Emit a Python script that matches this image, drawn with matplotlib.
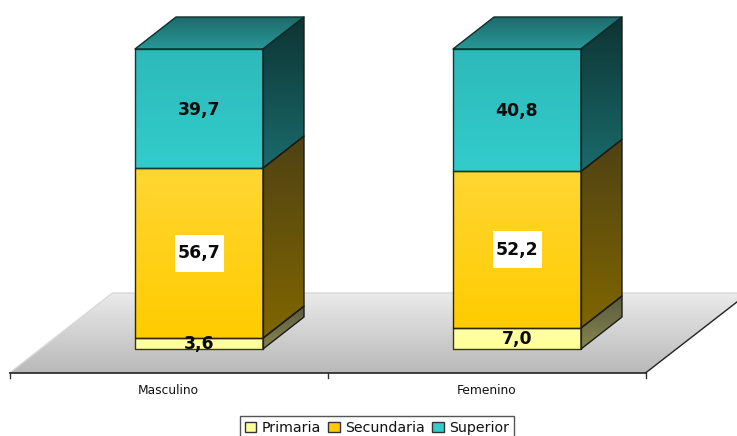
import numpy as np
import matplotlib
matplotlib.use("Agg")
import matplotlib.pyplot as plt
from matplotlib.colors import to_rgb, LinearSegmentedColormap
from matplotlib.patches import Polygon, Patch, Rectangle

categories = ["Masculino", "Femenino"]
series_names = ["Primaria", "Secundaria", "Superior"]
primaria = [3.6, 7.0]
secundaria = [56.7, 52.2]
superior = [39.7, 40.8]
value_labels = [["3,6", "7,0"], ["56,7", "52,2"], ["39,7", "40,8"]]

W, H = 737, 436
fig = plt.figure(figsize=(W / 100, H / 100), dpi=100, facecolor="white")
ax = fig.add_axes([0, 0, 1, 1])
XL = (-199 / 318, (W - 199) / 318)
YL = (-29, 349 / 3)
ax.axis("off")

PX = 1 / 318
PY = 1 / 3
bar_w = 128 * PX
dx, dy = 41 * PX, 32 * PY
fdx, fdy = 103 * PX, 80 * PY
floor_y = -8
cat_off = -30.5 * PX


def grad(verts, top, bottom, edge=None, lw=1.0, z=2):
    v = np.array(verts)
    cmap = LinearSegmentedColormap.from_list("g", [to_rgb(top), to_rgb(bottom)])
    im = ax.imshow(np.linspace(0, 1, 128)[:, None], cmap=cmap, aspect="auto",
                   extent=(v[:, 0].min(), v[:, 0].max(), v[:, 1].min(), v[:, 1].max()),
                   origin="upper", zorder=z, interpolation="bilinear")
    poly = Polygon(v, closed=True, transform=ax.transData, fc="none",
                   ec=edge if edge else "none", lw=lw, zorder=z + 0.1, joinstyle="round")
    ax.add_patch(poly)
    im.set_clip_path(poly)


# floor
x0 = -0.5 + cat_off
x1 = 1.5 + cat_off
floor = [(x0, floor_y), (x1, floor_y), (x1 + fdx, floor_y + fdy), (x0 + fdx, floor_y + fdy)]
grad(floor, "#eaeaea", "#b9b9b9", z=1)
ax.plot([x0, x0 + fdx, x1 + fdx], [floor_y, floor_y + fdy, floor_y + fdy], color="#d8d8d8", lw=1, zorder=1.5)
ax.plot([x1, x1 + fdx], [floor_y, floor_y + fdy], color="#222222", lw=1, zorder=1.6)
ax.plot([x0, x1], [floor_y, floor_y], color="#222222", lw=1.2, zorder=1.6)
for t in [x0, 0.5 + cat_off, x1]:
    ax.plot([t, t], [floor_y, floor_y - 5 * PY], color="#333333", lw=1, zorder=1.6)
for i, c in enumerate(categories):
    ax.text(i + cat_off, -13.7, c, ha="center", va="center", fontsize=8.8, color="#111111",
            family="DejaVu Sans")

styles = [
    dict(front=("#ffffa6", "#ffff99"), side=("#5c5c40", "#85854f"), edge="#3a3a10"),
    dict(front=("#ffd633", "#ffcc00"), side=("#4f4214", "#806600"), edge="#2e2500"),
    dict(front=("#2db9b9", "#33cccc"), side=("#0e3333", "#1a6b6b"), edge="#103a3a"),
]
stack = [primaria, secundaria, superior]
label_y = [[1.6, 3.4], [31.9, 33.0], [79.7, 79.4]]
boxed = [False, True, False]
box_w, box_h = 49 * PX, 37 * PY

for i in range(len(categories)):
    base = 0.0
    xl, xr = i - bar_w / 2, i + bar_w / 2
    for s, vals in enumerate(stack):
        v = vals[i]
        st = styles[s]
        grad([(xl, base), (xr, base), (xr, base + v), (xl, base + v)], st["front"][0], st["front"][1],
             edge=st["edge"], z=3 + s * 0.01)
        grad([(xr, base), (xr + dx, base + dy), (xr + dx, base + v + dy), (xr, base + v)],
             st["side"][0], st["side"][1], edge="#1a1a1a", z=3 + s * 0.01)
        base += v
    grad([(xl, base), (xr, base), (xr + dx, base + dy), (xl + dx, base + dy)],
         "#1e6a6a", "#289898", edge="#0d2e2e", z=3.1)
    for s in range(3):
        if boxed[s]:
            ax.add_patch(Rectangle((i - box_w / 2, label_y[s][i] - box_h / 2), box_w, box_h,
                                   fc="white", ec="none", zorder=5))
        ax.text(i, label_y[s][i], value_labels[s][i], ha="center", va="center",
                fontsize=12.4, fontweight="bold", color="#0a0a0a", family="DejaVu Sans", zorder=6)

handles = [Patch(fc=styles[k]["front"][1], ec="#333333", lw=1) for k in range(3)]
leg = ax.legend(handles, series_names, ncol=3, loc="lower left",
                bbox_to_anchor=(240 / W, -4 / H), bbox_transform=fig.transFigure, borderaxespad=0,
                fontsize=10.2, fancybox=False, framealpha=1, edgecolor="#555555",
                handlelength=0.8, handleheight=0.8, handletextpad=0.4, columnspacing=0.5,
                borderpad=0.36, labelcolor="#111111")
leg.get_frame().set_linewidth(1)
leg.set_zorder(7)

ax.set_xlim(XL)
ax.set_ylim(YL)
fig.savefig("out.png", dpi=100, facecolor="white")
